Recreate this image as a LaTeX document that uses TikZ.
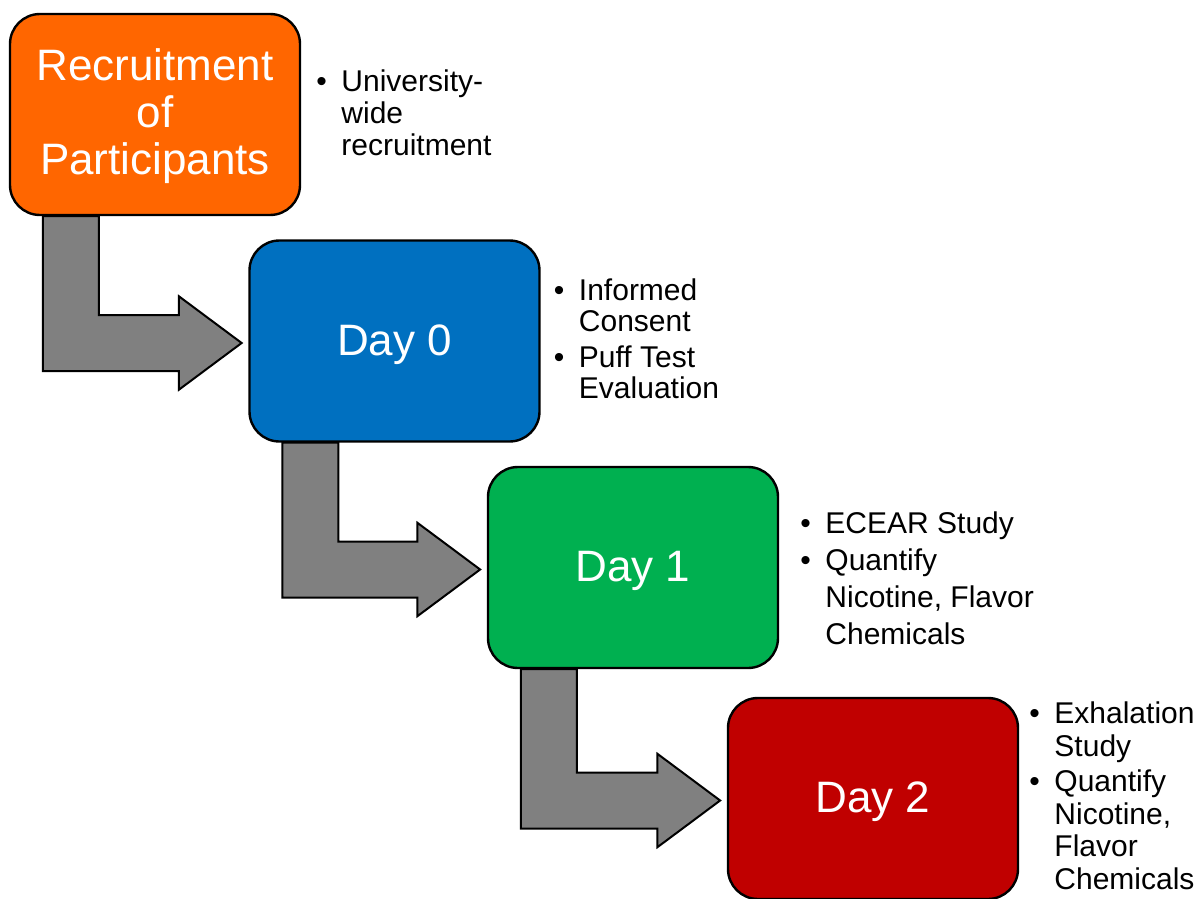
\documentclass[tikz,border=0pt]{standalone}
\usepackage{fontspec}
\setmainfont{Liberation Sans}
\usetikzlibrary{calc,backgrounds}
\definecolor{cOrange}{HTML}{FF6600}
\definecolor{cBlue}{HTML}{0070C0}
\definecolor{cGreen}{HTML}{00B050}
\definecolor{cRed}{HTML}{C00000}
\definecolor{cGray}{HTML}{808080}
\newcommand{\bl}{\makebox[18.75pt][l]{\textbullet}}
\newcommand{\lowr}[1]{\raisebox{-2.5pt}[\height][\depth]{#1}}
\begin{document}
\begin{tikzpicture}[x=0.75pt,y=-0.75pt,
  stagebox/.style={draw=black, line width=1.8pt, rounded corners=22.5pt,
    minimum width=217.5pt, minimum height=150.75pt, inner sep=0pt,
    text=white, align=center, font=\fontsize{33}{35.25}\selectfont},
  blist/.style={anchor=base west, inner sep=0pt, text=black},
  garrow/.style={draw=black, line width=1.5pt, fill=cGray, line join=miter}]
\useasboundingbox (0,0) rectangle (1200,899);

\node[stagebox, fill=cOrange] (b1) at (155,114.5) {\lowr{\begin{tabular}{@{}c@{}}Recruitment\\of\\Participants\end{tabular}}};
\node[stagebox, fill=cBlue]   (b2) at (394.5,341) {\lowr{Day 0}};
\node[stagebox, fill=cGreen]  (b3) at (633,567.5) {\lowr{Day 1}};
\node[stagebox, fill=cRed]    (b4) at (873,798.5) {\lowr{Day 2}};

\begin{scope}[on background layer]
\foreach \a/\b in {b1/b2, b2/b3, b3/b4}{
  \draw[garrow] let \p1=(\a.south west), \p2=(\b.west) in
    (\x1+25.5pt,\y1) -- (\x1+67.5pt,\y1) -- (\x1+67.5pt,\y2+19.5pt)
    -- (\x2-52pt,\y2+19.5pt) -- (\x2-52pt,\y2+33.5pt) -- (\x2-5pt,\y2-1.5pt)
    -- (\x2-52pt,\y2-36.5pt) -- (\x2-52pt,\y2-22.5pt) -- (\x1+25.5pt,\y2-22.5pt) -- cycle;
}
\end{scope}

\node[blist, font=\fontsize{22.5}{24}\selectfont] (t1) at ($(b1.north east)+(15,79)$)
  {\begin{tabular}[t]{@{}l@{}l@{}}\bl & University-\\ & wide\\ & recruitment\end{tabular}};
\node[blist, font=\fontsize{22.5}{23.25}\selectfont] (t2) at ($(b2.north east)+(13,61)$)
  {\begin{tabular}[t]{@{}l@{}l@{}}\bl & Informed\\ & Consent\\[3.75pt] \bl & Puff Test\\ & Evaluation\end{tabular}};
\node[blist, font=\fontsize{22.5}{27.75}\selectfont] (t3) at ($(b3.north east)+(21,68)$)
  {\begin{tabular}[t]{@{}l@{}l@{}}\bl & ECEAR Study\\ \bl & Quantify\\ & Nicotine, Flavor\\ & Chemicals\end{tabular}};
\node[blist, font=\fontsize{22.5}{24.4}\selectfont] (t4) at ($(b4.north east)+(10,27)$)
  {\begin{tabular}[t]{@{}l@{}l@{}}\bl & Exhalation\\ & Study\\[2.25pt] \bl & Quantify\\ & Nicotine,\\ & Flavor\\ & Chemicals\end{tabular}};
\end{tikzpicture}
\end{document}
